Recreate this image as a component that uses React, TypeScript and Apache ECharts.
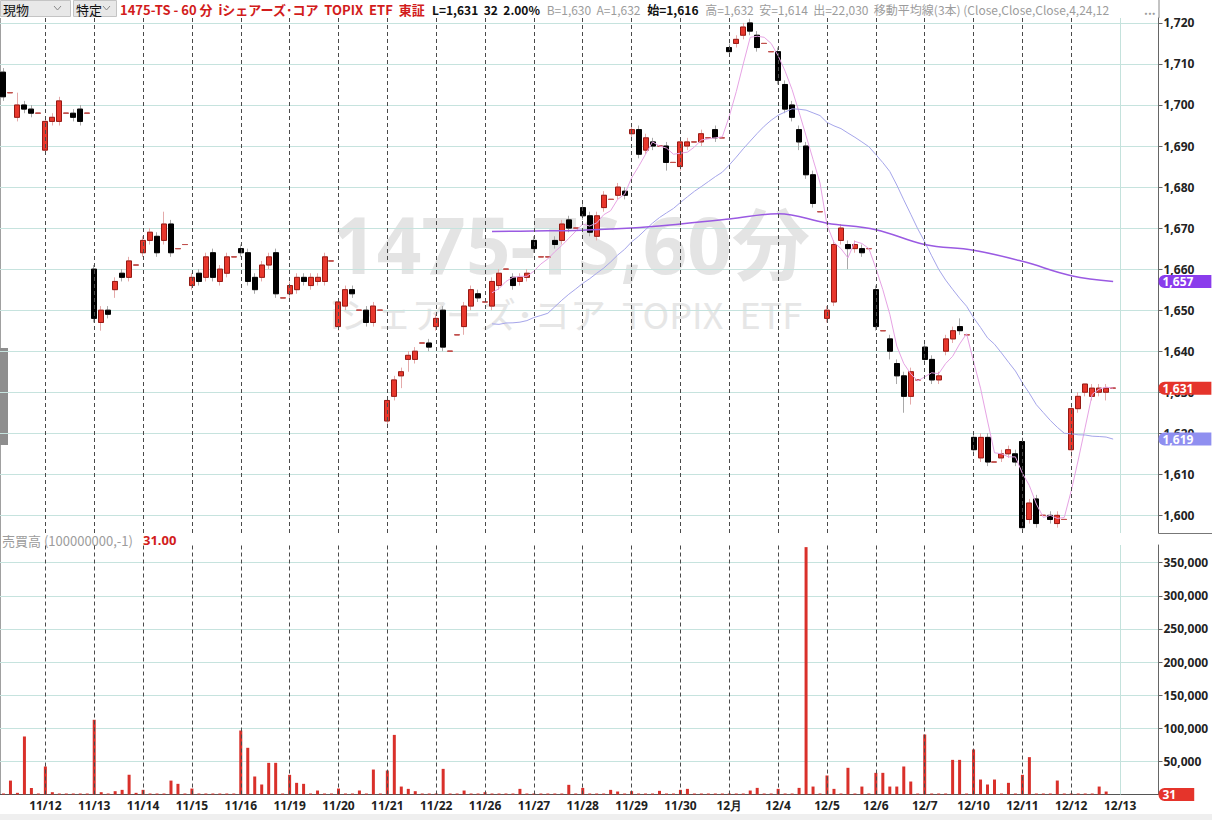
import React, { useEffect, useRef } from 'react';
import * as echarts from 'echarts';

// ---------- data ----------
const dayLabels = ['11/9', '11/12', '11/13', '11/14', '11/15', '11/16', '11/19', '11/20', '11/21', '11/22', '11/26', '11/27', '11/28', '11/29', '11/30', '12月', '12/4', '12/5', '12/6', '12/7', '12/10', '12/11', '12/12', '12/13'];
// hourly slots shown per day (11/9 only its last 6 slots are visible, 12/13 is still empty)
const slotsShown = [6, 7, 7, 7, 7, 7, 7, 7, 7, 7, 7, 7, 7, 7, 7, 7, 7, 7, 7, 7, 7, 7, 7, 6];
const firstSlot = [1, 0, 0, 0, 0, 0, 0, 0, 0, 0, 0, 0, 0, 0, 0, 0, 0, 0, 0, 0, 0, 0, 0, 0];

const opens = [
  1708, 1703, 1697, 1700, 1699, 1698,
  1689, 1696, 1696, 1698, 1698, 1699, 1698,
  1660, 1647, 1650, 1655, 1659, 1658, 1661,
  1664, 1667, 1668, 1667, 1671, 1665, 1666,
  1656, 1659, 1658, 1664, 1657, 1659, 1663,
  1665, 1664, 1658, 1658, 1661, 1664, 1653,
  1654, 1655, 1658, 1656, 1657, 1657, 1662,
  1646, 1651, 1655, 1650, 1650, 1647, 1650,
  1623, 1629, 1634, 1638, 1638, 1642, 1642,
  1646, 1650, 1640, 1644, 1646, 1651, 1654,
  1652, 1651, 1656, 1660, 1658, 1657, 1658,
  1667, 1663, 1663, 1667, 1667, 1672, 1670,
  1675, 1673, 1668, 1675, 1677, 1678, 1679,
  1693, 1694, 1689, 1691, 1690, 1690, 1686,
  1685, 1690, 1691, 1691, 1692, 1694, 1692,
  1714, 1715, 1717, 1720, 1717, 1715, 1713,
  1713, 1705, 1700, 1694, 1690, 1683, 1674,
  1648, 1652, 1667, 1666, 1665, 1665, 1665,
  1655, 1645, 1643, 1637, 1634, 1629, 1633,
  1641, 1638, 1633, 1640, 1643, 1646, 1644,
  1619, 1614, 1619, 1613, 1614, 1615, 1615,
  1618, 1599, 1604, 1600, 1600, 1598, 1599,
  1616, 1626, 1630, 1629, 1630, 1630, 1631,
];
const closes = [
  1702, 1703, 1700, 1699, 1698, 1698,
  1696, 1697, 1701, 1698, 1697, 1696, 1698,
  1648, 1650, 1649, 1657, 1658, 1662, 1661,
  1667, 1669, 1664, 1671, 1664, 1665, 1666,
  1658, 1657, 1663, 1658, 1660, 1663, 1663,
  1664, 1657, 1655, 1661, 1663, 1654, 1653,
  1656, 1658, 1657, 1658, 1658, 1663, 1662,
  1652, 1655, 1654, 1650, 1647, 1651, 1650,
  1628, 1633, 1635, 1639, 1640, 1642, 1641,
  1648, 1641, 1640, 1644, 1651, 1655, 1653,
  1652, 1657, 1659, 1660, 1656, 1658, 1659,
  1665, 1663, 1663, 1666, 1671, 1670, 1670,
  1673, 1669, 1673, 1678, 1677, 1680, 1678,
  1694, 1688, 1692, 1690, 1690, 1686, 1686,
  1691, 1691, 1691, 1693, 1692, 1692, 1692,
  1713, 1716, 1719, 1718, 1714, 1715, 1713,
  1706, 1699, 1697, 1691, 1683, 1676, 1674,
  1650, 1666, 1670, 1665, 1666, 1664, 1665,
  1646, 1645, 1640, 1634, 1629, 1635, 1633,
  1638, 1633, 1634, 1643, 1645, 1645, 1644,
  1616, 1619, 1613, 1613, 1615, 1616, 1613,
  1597, 1603, 1598, 1600, 1599, 1600, 1599,
  1626, 1629, 1632, 1631, 1631, 1631, 1631,
];
const highs = [
  1709, 1703, 1703, 1701, 1700, 1698,
  1697, 1698, 1702, 1698, 1699, 1700, 1698,
  1661, 1651, 1651, 1658, 1660, 1663, 1661,
  1668, 1670, 1669, 1674, 1672, 1665, 1666,
  1659, 1660, 1664, 1665, 1661, 1664, 1663,
  1666, 1665, 1659, 1662, 1664, 1665, 1653,
  1657, 1659, 1659, 1659, 1659, 1664, 1662,
  1653, 1656, 1656, 1650, 1651, 1652, 1650,
  1629, 1634, 1636, 1640, 1641, 1642, 1643,
  1649, 1651, 1640, 1644, 1652, 1656, 1655,
  1652, 1658, 1660, 1660, 1659, 1659, 1660,
  1668, 1663, 1663, 1668, 1672, 1673, 1670,
  1676, 1674, 1674, 1679, 1677, 1681, 1680,
  1695, 1695, 1693, 1692, 1690, 1691, 1686,
  1692, 1692, 1691, 1694, 1692, 1695, 1692,
  1715, 1717, 1720, 1721, 1718, 1715, 1713,
  1714, 1706, 1701, 1695, 1691, 1684, 1674,
  1651, 1667, 1671, 1667, 1667, 1666, 1665,
  1656, 1645, 1644, 1638, 1635, 1636, 1633,
  1642, 1639, 1635, 1644, 1646, 1648, 1644,
  1620, 1620, 1620, 1613, 1616, 1617, 1616,
  1619, 1604, 1605, 1600, 1601, 1601, 1599,
  1627, 1630, 1632, 1632, 1632, 1632, 1631,
];
const lows = [
  1701, 1703, 1696, 1698, 1697, 1698,
  1688, 1695, 1695, 1698, 1696, 1695, 1698,
  1647, 1645, 1648, 1653, 1657, 1657, 1661,
  1663, 1666, 1663, 1666, 1663, 1665, 1666,
  1655, 1656, 1657, 1657, 1656, 1658, 1663,
  1663, 1656, 1654, 1657, 1660, 1653, 1653,
  1653, 1654, 1656, 1655, 1656, 1656, 1662,
  1645, 1650, 1653, 1650, 1646, 1646, 1650,
  1622, 1628, 1631, 1635, 1637, 1642, 1640,
  1645, 1640, 1640, 1644, 1644, 1650, 1652,
  1652, 1650, 1655, 1660, 1655, 1656, 1657,
  1664, 1663, 1663, 1665, 1666, 1669, 1670,
  1672, 1668, 1667, 1674, 1677, 1677, 1677,
  1692, 1687, 1688, 1689, 1690, 1684, 1686,
  1684, 1689, 1691, 1690, 1692, 1691, 1692,
  1712, 1714, 1716, 1717, 1713, 1715, 1713,
  1705, 1698, 1696, 1689, 1682, 1675, 1674,
  1647, 1651, 1666, 1660, 1664, 1663, 1665,
  1645, 1645, 1638, 1632, 1625, 1627, 1633,
  1637, 1632, 1632, 1639, 1642, 1644, 1644,
  1615, 1613, 1612, 1613, 1613, 1614, 1612,
  1596, 1598, 1597, 1600, 1598, 1597, 1599,
  1614, 1625, 1629, 1628, 1629, 1628, 1631,
];
const volumes = [
  1500, 21000, 2500, 87600, 10000, 1500,
  42300, 3500, 1500, 1500, 1500, 1500, 1500,
  112800, 3500, 1500, 5000, 7000, 29700, 2500,
  7000, 1500, 1500, 1500, 21000, 16100, 1500,
  9000, 1500, 1500, 1500, 1500, 1500, 1500,
  96600, 70500, 27200, 15100, 47800, 47800, 1500,
  29700, 17600, 16100, 1500, 6000, 1500, 1500,
  9000, 1500, 1500, 6000, 1500, 37700, 1500,
  36200, 90000, 12000, 8500, 5000, 1500, 1500,
  1500, 38700, 1500, 1500, 6000, 1500, 1500,
  3500, 1500, 1500, 1500, 1500, 8500, 1500,
  1500, 1500, 1500, 1500, 1500, 14600, 1500,
  10000, 1500, 1500, 1500, 7000, 4500, 1500,
  5000, 1500, 1500, 1500, 5500, 1500, 1500,
  7000, 8500, 1500, 1500, 1500, 1500, 1500,
  1500, 1500, 1500, 6000, 10000, 1500, 1500,
  8500, 1500, 1500, 10000, 373500, 12000, 1500,
  28700, 8500, 1500, 40300, 1500, 12000, 1500,
  32700, 32700, 12000, 12000, 42300, 19600, 1500,
  90600, 1500, 1500, 1500, 52300, 52300, 1500,
  68000, 22600, 15100, 22600, 1500, 17600, 1500,
  29700, 56400, 1500, 1500, 1500, 21100, 1500,
  1500, 1500, 1500, 1500, 12000, 4500, 31,
];
// 120-bar moving average at a few bars: [bar index, value]
const ma120Read: [number, number][] = [
  [70, 1669.2], [76, 1669.3], [83, 1669.5], [90, 1670.0], [97, 1671.0], [104, 1672.2],
  [111, 1673.5], [118, 1671.2], [125, 1669.6], [132, 1666.0], [139, 1664.6],
  [146, 1661.9], [153, 1658.4], [159, 1657.0],
];
const maFirstBar = 70; // MA lines are drawn from this bar on
const priceTicks = [1600, 1610, 1620, 1630, 1640, 1650, 1660, 1670, 1680, 1690, 1700, 1710, 1720];
const volumeTicks = [50000, 100000, 150000, 200000, 250000, 300000, 350000];

// ---------- derived ----------
const categories: string[] = [];
const dayStarts: { idx: number; label: string }[] = [];
dayLabels.forEach((d, k) => {
  for (let j = 0; j < slotsShown[k]; j++) {
    const slot = firstSlot[k] + j;
    if (slot === 0) dayStarts.push({ idx: categories.length, label: d });
    categories.push(d + '|' + slot);
  }
});
const N = categories.length;
const pad = (arr: (number | null)[]) => {
  const out: (number | null)[] = arr.slice();
  while (out.length < N) out.push(null);
  return out;
};
function movingAverage(period: number) {
  return closes.map((_, i) => {
    if (i < maFirstBar || i < period - 1) return null;
    let s = 0;
    for (let j = i - period + 1; j <= i; j++) s += closes[j];
    return +(s / period).toFixed(2);
  });
}
const ma4 = pad(movingAverage(4));
const ma24 = pad(movingAverage(24));
const ma120: (number | null)[] = new Array(N).fill(null);
ma120Read.forEach(([i, v]) => (ma120[i] = v));

const fmt = (v: number) => Math.round(v).toLocaleString('en-US');
const AX_FONT = '"Noto Sans", "DejaVu Sans", sans-serif';
const JP_FONT = '"Noto Sans CJK JP", "Noto Sans", sans-serif';

const tag = (value: number, bg: string, text: string) => ({
  yAxis: value,
  lineStyle: { color: 'rgba(0,0,0,0)', width: 0, opacity: 1 },
  label: {
    show: true,
    position: 'end',
    distance: 0,
    formatter: text,
    color: '#fff',
    opacity: 1,
    fontWeight: 'bold',
    fontSize: 12,
    fontFamily: AX_FONT,
    backgroundColor: bg,
    padding: [1, 18, 0, 4],
    borderRadius: [6, 0, 0, 6],
  },
});

const dayLineData: any[] = dayStarts
  .filter((d) => d.label !== '12/13')
  .map((d) => ({ xAxis: categories[d.idx] }));
const futureDay = dayStarts.find((d) => d.label === '12/13');
if (futureDay) dayLineData.push({ xAxis: categories[futureDay.idx], lineStyle: { type: 'solid', color: '#c4e2dc', width: 1 } });

const dayLines = (extra: any[]) => ({
  silent: true,
  symbol: ['none', 'none'],
  animation: false,
  label: { show: false },
  lineStyle: { color: '#4a4a4a', type: [4, 3], width: 1 },
  data: [...dayLineData, ...extra],
});

const lastClose = closes[closes.length - 1];
const lastMa24 = ma24[closes.length - 1] as number;
const lastMa120 = ma120Read[ma120Read.length - 1][1];
const lastVolume = volumes[volumes.length - 1];

const GRID_W = 1158.5;

const option: any = {
  animation: false,
  backgroundColor: '#ffffff',
  grid: [
    { left: 0, top: 18, width: GRID_W, height: 515 },
    { left: 0, top: 545, width: GRID_W, height: 249.5 },
  ],
  xAxis: [
    {
      type: 'category', gridIndex: 0, data: categories, boundaryGap: true,
      axisLine: { show: false }, axisTick: { show: false }, axisLabel: { show: false }, splitLine: { show: false },
    },
    {
      type: 'category', gridIndex: 1, data: categories, boundaryGap: true,
      axisLine: { show: true, lineStyle: { color: '#555', width: 1 } },
      axisTick: { show: false },
      splitLine: { show: false },
      axisLabel: {
        interval: (_i: number, v: string) => v.endsWith('|0'),
        formatter: (v: string) => v.split('|')[0],
        color: '#222', fontWeight: 'bold', fontSize: 12, fontFamily: AX_FONT, margin: 5,
        hideOverlap: false,
      },
    },
  ],
  yAxis: [
    {
      type: 'value', gridIndex: 0, position: 'right', min: 1595.7, max: 1721.2,
      axisLine: { show: true, lineStyle: { color: '#666' } },
      axisTick: { show: true, length: 4, customValues: priceTicks, lineStyle: { color: '#666' } },
      axisLabel: { customValues: priceTicks, formatter: fmt, color: '#222', fontWeight: 'bold', fontSize: 12, fontFamily: AX_FONT, margin: 5 },
      splitLine: { show: true, lineStyle: { color: '#c6e3de', width: 1 } },
    },
    {
      type: 'value', gridIndex: 1, position: 'right', min: 0, max: 376700,
      axisLine: { show: true, lineStyle: { color: '#666' } },
      axisTick: { show: true, length: 4, customValues: volumeTicks, lineStyle: { color: '#666' } },
      axisLabel: { customValues: volumeTicks, formatter: fmt, color: '#222', fontWeight: 'bold', fontSize: 12, fontFamily: AX_FONT, margin: 5 },
      splitLine: { show: true, lineStyle: { color: '#c6e3de', width: 1 } },
    },
  ],
  series: [
    {
      name: 'wicks', type: 'candlestick', xAxisIndex: 0, yAxisIndex: 0, barWidth: 5.5,
      data: opens.map((o, i) => [o, closes[i], lows[i], highs[i]]),
      itemStyle: { color: 'rgba(0,0,0,0)', color0: 'rgba(0,0,0,0)', borderColor: '#e4aaaa', borderColor0: '#a9a9a9', borderColorDoji: '#c0504d', borderWidth: 1 },
      markLine: dayLines([]),
      z: 2,
    },
    {
      name: 'price', type: 'candlestick', xAxisIndex: 0, yAxisIndex: 0, barWidth: 5.5,
      data: opens.map((o, i) => [o, closes[i], Math.min(o, closes[i]), Math.max(o, closes[i])]),
      itemStyle: { color: '#e8372c', color0: '#000000', borderColor: '#951a14', borderColor0: '#000000', borderColorDoji: '#c0504d', borderWidth: 1 },
      markLine: { silent: true, symbol: ['none', 'none'], animation: false, data: [tag(lastClose, '#e5342b', fmt(lastClose))] },
      z: 3,
    },
    {
      name: 'MA4', type: 'line', xAxisIndex: 0, yAxisIndex: 0, data: ma4, showSymbol: false,
      lineStyle: { color: '#e6a3e4', width: 1 }, z: 4,
    },
    {
      name: 'MA24', type: 'line', xAxisIndex: 0, yAxisIndex: 0, data: ma24, showSymbol: false,
      lineStyle: { color: '#a5a5ea', width: 1 }, z: 4,
      markLine: { silent: true, symbol: ['none', 'none'], animation: false, data: [tag(lastMa24, '#8f8ff0', fmt(lastMa24))] },
    },
    {
      name: 'MA120', type: 'line', xAxisIndex: 0, yAxisIndex: 0, data: ma120, showSymbol: false,
      connectNulls: true, smooth: 0.4,
      lineStyle: { color: '#9a5ae2', width: 1.5 }, z: 4,
      markLine: { silent: true, symbol: ['none', 'none'], animation: false, data: [tag(lastMa120, '#8a3cec', fmt(lastMa120))] },
    },
    {
      name: 'volume', type: 'bar', xAxisIndex: 1, yAxisIndex: 1, data: volumes, barWidth: 3,
      itemStyle: { color: '#d9302a' },
      markLine: dayLines([tag(lastVolume, '#e5342b', String(lastVolume))]),
      z: 3,
    },
  ],
  graphic: [
    // watermark
    {
      type: 'text', x: 571, y: 244, z: -10, silent: true,
      style: { text: '1475-TS,60分', fill: '#e4e4e4', font: 'bold 78px "Noto Sans", "Noto Sans CJK JP", sans-serif', align: 'center', verticalAlign: 'middle' },
    },
    {
      type: 'text', x: 566, y: 313, z: -10, silent: true,
      style: { text: 'iシェアーズ･コア  TOPIX  ETF', fill: '#e6e6e6', font: '36px "Noto Sans CJK JP", "Noto Sans", sans-serif', align: 'center', verticalAlign: 'middle' },
    },
    // header dropdowns
    { type: 'rect', shape: { x: 0.5, y: 0.5, width: 70, height: 16 }, style: { fill: '#e8e8e8', stroke: '#c4c4c4' } },
    { type: 'text', x: 3, y: 9, style: { text: '現物', fill: '#111', font: '13px ' + JP_FONT, verticalAlign: 'middle' } },
    { type: 'polyline', shape: { points: [[54, 6], [57.5, 10], [61, 6]] }, style: { stroke: '#888', fill: null, lineWidth: 1 } },
    { type: 'rect', shape: { x: 73.5, y: 0.5, width: 43, height: 16 }, style: { fill: '#e8e8e8', stroke: '#c4c4c4' } },
    { type: 'text', x: 76, y: 9, style: { text: '特定', fill: '#111', font: '13px ' + JP_FONT, verticalAlign: 'middle' } },
    { type: 'polyline', shape: { points: [[103, 6], [106.5, 10], [110, 6]] }, style: { stroke: '#888', fill: null, lineWidth: 1 } },
    // header info line
    {
      type: 'text', x: 120, y: 9,
      style: {
        text: '{r|1475-TS - 60 分  iシェアーズ･コア  TOPIX  ETF  東証}  {k|L=1,631  32  2.00%}  {g|B=1,630  A=1,632}  {k|始=1,616}  {g|高=1,632  安=1,614  出=22,030  移動平均線(3本) (Close,Close,Close,4,24,12}',
        verticalAlign: 'middle',
        rich: {
          r: { fill: '#d21c1c', fontWeight: 'bold', fontSize: 13, fontFamily: JP_FONT },
          k: { fill: '#111', fontWeight: 'bold', fontSize: 12, fontFamily: JP_FONT },
          g: { fill: '#9c9c9c', fontSize: 12, fontFamily: JP_FONT },
        },
      },
    },
    { type: 'text', x: 1144, y: 9, style: { text: '...', fill: '#9c9c9c', font: 'bold 12px ' + JP_FONT, verticalAlign: 'middle' } },
    { type: 'line', shape: { x1: GRID_W + 0.5, y1: 0, x2: GRID_W + 0.5, y2: 18 }, style: { stroke: '#888', lineWidth: 1 } },
    // volume panel caption
    {
      type: 'text', x: 2, y: 540,
      style: {
        text: '{g|売買高 (100000000,-1)}   {r|31.00}',
        verticalAlign: 'middle',
        rich: {
          g: { fill: '#9c9c9c', fontSize: 13, fontFamily: JP_FONT },
          r: { fill: '#d21c1c', fontWeight: 'bold', fontSize: 13, fontFamily: AX_FONT },
        },
      },
    },
    // panel separator on the axis side
    { type: 'line', shape: { x1: GRID_W, y1: 533.5, x2: 1212, y2: 533.5 }, style: { stroke: '#777', lineWidth: 1 } },
    // left edge frame and scroll tab
    { type: 'rect', shape: { x: 0, y: 18, width: 1, height: 777 }, style: { fill: '#a0a0a0' } },
    { type: 'rect', shape: { x: 0, y: 348, width: 8, height: 97 }, style: { fill: '#8e8e8e' } },
    // bottom window strip
    { type: 'rect', shape: { x: 0, y: 814, width: 1212, height: 6 }, style: { fill: '#efefef' } },
  ],
};

export default function App() {
  const ref = useRef<HTMLDivElement>(null);
  useEffect(() => {
    if (!ref.current) return;
    const chart = echarts.init(ref.current, undefined, { renderer: 'svg' });
    chart.setOption(option);
    return () => chart.dispose();
  }, []);
  return (
    <div
      ref={ref}
      style={{ position: 'absolute', left: 0, top: 0, width: 1212, height: 820, background: '#fff' }}
    />
  );
}
